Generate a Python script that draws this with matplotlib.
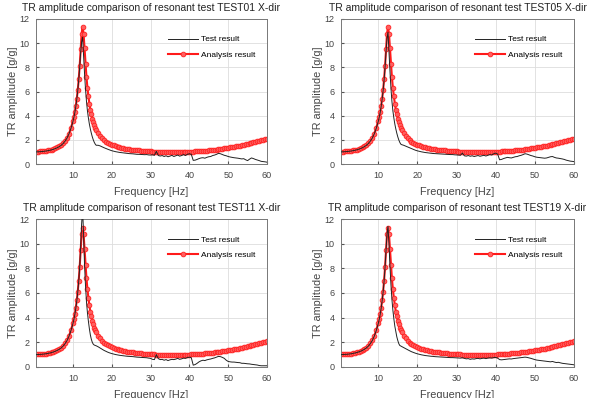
import numpy as np
import matplotlib
matplotlib.use("Agg")
import matplotlib.pyplot as plt

plt.rcParams['font.family'] = ['Liberation Sans', 'DejaVu Sans']

# Frequency grid [Hz]
freq = np.concatenate([np.arange(0.5, 10.01, 0.5),
                       np.arange(10.25, 16.01, 0.25),
                       np.arange(16.5, 60.01, 0.5)])

analysis = [
    1.02, 1.03, 1.04, 1.05, 1.07, 1.09, 1.12, 1.15, 1.19, 1.24,
    1.3, 1.37, 1.46, 1.57, 1.72, 1.92, 2.18, 2.52, 2.98, 3.55,
    3.9, 4.3, 4.8, 5.4, 6.1, 7.0, 8.1, 9.5, 10.8, 11.3, 10.8, 9.6,
    8.3, 7.2, 6.3, 5.6, 5.0, 4.5, 4.1, 3.75, 3.45, 3.2, 3.0, 2.82,
    2.55, 2.32, 2.13, 1.98, 1.86, 1.76, 1.67, 1.6,
    1.54, 1.48, 1.43, 1.39, 1.35, 1.31, 1.28, 1.25, 1.22, 1.2,
    1.18, 1.16, 1.14, 1.12, 1.1, 1.09, 1.07, 1.06, 1.05, 1.04,
    1.03, 1.02, 1.01, 1.0, 1.0, 0.99, 0.99, 0.99, 0.98, 0.98,
    0.98, 0.98, 0.98, 0.99, 0.99, 0.99, 1.0, 1.0, 1.01, 1.01,
    1.02, 1.03, 1.04, 1.05, 1.06, 1.07, 1.08, 1.1, 1.11, 1.13,
    1.14, 1.16, 1.18, 1.2, 1.22, 1.24, 1.26, 1.29, 1.31, 1.34,
    1.37, 1.4, 1.43, 1.46, 1.49, 1.52, 1.56, 1.59, 1.63, 1.67,
    1.71, 1.75, 1.79, 1.83, 1.87, 1.91, 1.95, 1.99, 2.03, 2.07,
]

test01 = [
    1.0, 1.01, 1.02, 1.03, 1.05, 1.07, 1.1, 1.13, 1.17, 1.22,
    1.28, 1.35, 1.44, 1.55, 1.7, 1.9, 2.15, 2.5, 2.95, 3.5,
    3.85, 4.25, 4.75, 5.35, 6.05, 6.95, 8.0, 9.2, 10.1, 10.5, 9.0, 7.5,
    6.2, 5.2, 4.4, 3.8, 3.3, 2.9, 2.55, 2.25, 2.0, 1.8, 1.65, 1.55,
    1.55, 1.5, 1.42, 1.35, 1.28, 1.22, 1.16, 1.1,
    1.06, 1.02, 0.99, 0.96, 0.94, 0.92, 0.9, 0.88, 0.86, 0.85,
    0.84, 0.82, 0.8, 0.8, 0.79, 0.78, 0.77, 0.78, 0.75, 0.74,
    0.76, 0.72, 1.05, 0.7, 0.66, 0.7, 0.62, 0.68, 0.6, 0.65,
    0.72, 0.62, 0.68, 0.74, 0.65, 0.7, 0.78, 0.7, 0.8, 0.85,
    0.8, 0.3, 0.32, 0.38, 0.45, 0.5, 0.52, 0.48, 0.55, 0.6,
    0.62, 0.7, 0.74, 0.8, 0.88, 0.85, 0.78, 0.72, 0.68, 0.62,
    0.58, 0.55, 0.52, 0.5, 0.48, 0.45, 0.42, 0.44, 0.35, 0.28,
    0.4, 0.5, 0.45, 0.38, 0.33, 0.28, 0.22, 0.2, 0.18, 0.15,
]

test05 = [
    1.0, 1.01, 1.02, 1.03, 1.05, 1.07, 1.1, 1.13, 1.17, 1.22,
    1.28, 1.35, 1.44, 1.55, 1.7, 1.9, 2.15, 2.5, 2.95, 3.5,
    3.85, 4.25, 4.75, 5.35, 6.05, 6.95, 8.0, 9.3, 10.4, 10.9, 9.3, 7.7,
    6.3, 5.2, 4.4, 3.8, 3.3, 2.9, 2.55, 2.25, 2.0, 1.8, 1.65, 1.6,
    1.55, 1.48, 1.4, 1.33, 1.26, 1.2, 1.14, 1.09,
    1.05, 1.01, 0.98, 0.95, 0.93, 0.91, 0.89, 0.87, 0.86, 0.85,
    0.84, 0.83, 0.82, 0.81, 0.8, 0.79, 0.78, 0.78, 0.76, 0.75,
    0.74, 0.72, 0.9, 0.68, 0.65, 0.7, 0.64, 0.68, 0.62, 0.66,
    0.7, 0.64, 0.68, 0.72, 0.66, 0.72, 0.78, 0.74, 0.85, 0.9,
    0.82, 0.35, 0.38, 0.45, 0.5, 0.55, 0.52, 0.5, 0.55, 0.6,
    0.62, 0.68, 0.72, 0.78, 0.85, 0.82, 0.76, 0.7, 0.66, 0.6,
    0.56, 0.54, 0.52, 0.5, 0.48, 0.5, 0.55, 0.6, 0.62, 0.55,
    0.5, 0.48, 0.45, 0.42, 0.38, 0.32, 0.28, 0.24, 0.22, 0.2,
]

test11 = [
    1.0, 1.01, 1.02, 1.03, 1.05, 1.07, 1.1, 1.13, 1.17, 1.22,
    1.28, 1.35, 1.44, 1.55, 1.7, 1.9, 2.15, 2.5, 2.95, 3.5,
    3.85, 4.25, 4.75, 5.35, 6.05, 6.95, 8.1, 9.7, 11.6, 12.8, 10.8, 8.3,
    6.6, 5.3, 4.4, 3.7, 3.1, 2.6, 2.25, 2.0, 1.85, 1.78, 1.75, 1.72,
    1.64, 1.54, 1.44, 1.35, 1.27, 1.2, 1.14, 1.09,
    1.05, 1.01, 0.98, 0.95, 0.93, 0.91, 0.89, 0.87, 0.86, 0.85,
    0.84, 0.82, 0.8, 0.79, 0.78, 0.77, 0.76, 0.75, 0.72, 0.7,
    0.62, 0.6, 1.0, 0.68, 0.6, 0.62, 0.55, 0.6, 0.52, 0.58,
    0.62, 0.6, 0.64, 0.7, 0.62, 0.66, 0.72, 0.7, 0.76, 0.8,
    0.75, 0.15, 0.2, 0.3, 0.42, 0.5, 0.55, 0.52, 0.58, 0.62,
    0.65, 0.7, 0.74, 0.8, 0.86, 0.84, 0.78, 0.7, 0.55, 0.45,
    0.42, 0.4, 0.4, 0.38, 0.36, 0.35, 0.3, 0.3, 0.28, 0.26,
    0.25, 0.22, 0.2, 0.18, 0.16, 0.12, 0.1, 0.1, 0.1, 0.1,
]

test19 = [
    1.0, 1.01, 1.02, 1.03, 1.05, 1.07, 1.1, 1.13, 1.17, 1.22,
    1.28, 1.35, 1.44, 1.55, 1.7, 1.9, 2.15, 2.5, 2.95, 3.5,
    3.85, 4.25, 4.75, 5.35, 6.05, 6.95, 8.1, 9.5, 10.8, 11.4, 10.0, 8.2,
    6.7, 5.5, 4.6, 3.9, 3.3, 2.85, 2.45, 2.15, 1.9, 1.75, 1.7, 1.66,
    1.58, 1.49, 1.4, 1.32, 1.24, 1.18, 1.12, 1.07,
    1.03, 0.99, 0.96, 0.93, 0.91, 0.89, 0.87, 0.86, 0.84, 0.83,
    0.82, 0.81, 0.8, 0.79, 0.78, 0.77, 0.76, 0.76, 0.75, 0.74,
    0.73, 0.72, 0.75, 0.7, 0.66, 0.68, 0.62, 0.66, 0.64, 0.68,
    0.7, 0.66, 0.7, 0.72, 0.68, 0.72, 0.74, 0.72, 0.76, 0.78,
    0.72, 0.6, 0.58, 0.6, 0.62, 0.64, 0.66, 0.65, 0.68, 0.7,
    0.72, 0.74, 0.76, 0.78, 0.8, 0.78, 0.74, 0.7, 0.65, 0.6,
    0.56, 0.54, 0.52, 0.5, 0.48, 0.46, 0.44, 0.42, 0.45, 0.4,
    0.36, 0.38, 0.34, 0.3, 0.28, 0.26, 0.24, 0.22, 0.2, 0.18,
]

titles = ["TR amplitude comparison of resonant test TEST01 X-dir",
          "TR amplitude comparison of resonant test TEST05 X-dir",
          "TR amplitude comparison of resonant test TEST11 X-dir",
          "TR amplitude comparison of resonant test TEST19 X-dir"]
tests = [test01, test05, test11, test19]
xticks = [10, 20, 30, 40, 50, 60]
yticks = [0, 2, 4, 6, 8, 10, 12]

W, H = 589, 398
fig = plt.figure(figsize=(W / 100, H / 100), dpi=100)
boxes = [(36, 19, 267, 164), (341, 19, 574, 164),
         (36, 219, 267, 367), (341, 219, 574, 367)]

for i, (x0, y0, x1, y1) in enumerate(boxes):
    ax = fig.add_axes([x0 / W, 1 - y1 / H, (x1 - x0) / W, (y1 - y0) / H])
    ax.plot(freq, tests[i], color='#222222', lw=0.7, label='Test result', zorder=3)
    ax.plot(freq, analysis, color='#ff1a1a', lw=1.5, marker='o', ms=3.4,
            mfc='#ff6060', mec='#ff2020', mew=0.6, label='Analysis result', zorder=2)
    ax.set_xlim(0.5, 60)
    ax.set_ylim(0, 12)
    ax.set_xticks(xticks)
    ax.set_yticks(yticks)
    ax.grid(True, color='#dddddd', lw=0.6)
    ax.set_axisbelow(True)
    ax.tick_params(direction='in', labelsize=6.5, length=2.5, colors='#555555',
                   labelcolor='#444444')
    ax.tick_params(axis='x', pad=5)
    ax.tick_params(axis='y', pad=4.5)
    for s in ax.spines.values():
        s.set_color('#777777')
        s.set_linewidth(0.7)
    ax.set_title(titles[i], fontsize=7.5, pad=5.5, color='#222222')
    ax.set_xlabel('Frequency [Hz]', fontsize=7.8, labelpad=5, color='#444444')
    ax.set_ylabel('TR amplitude [g/g]', fontsize=7.8, labelpad=1.5, color='#444444')
    ax.legend(loc='upper right', bbox_to_anchor=(0.97, 0.92), frameon=False,
              fontsize=6, handlelength=3.6, handletextpad=0.3, labelspacing=0.9,
              borderaxespad=0.2)

fig.savefig('out.png', dpi=100)
